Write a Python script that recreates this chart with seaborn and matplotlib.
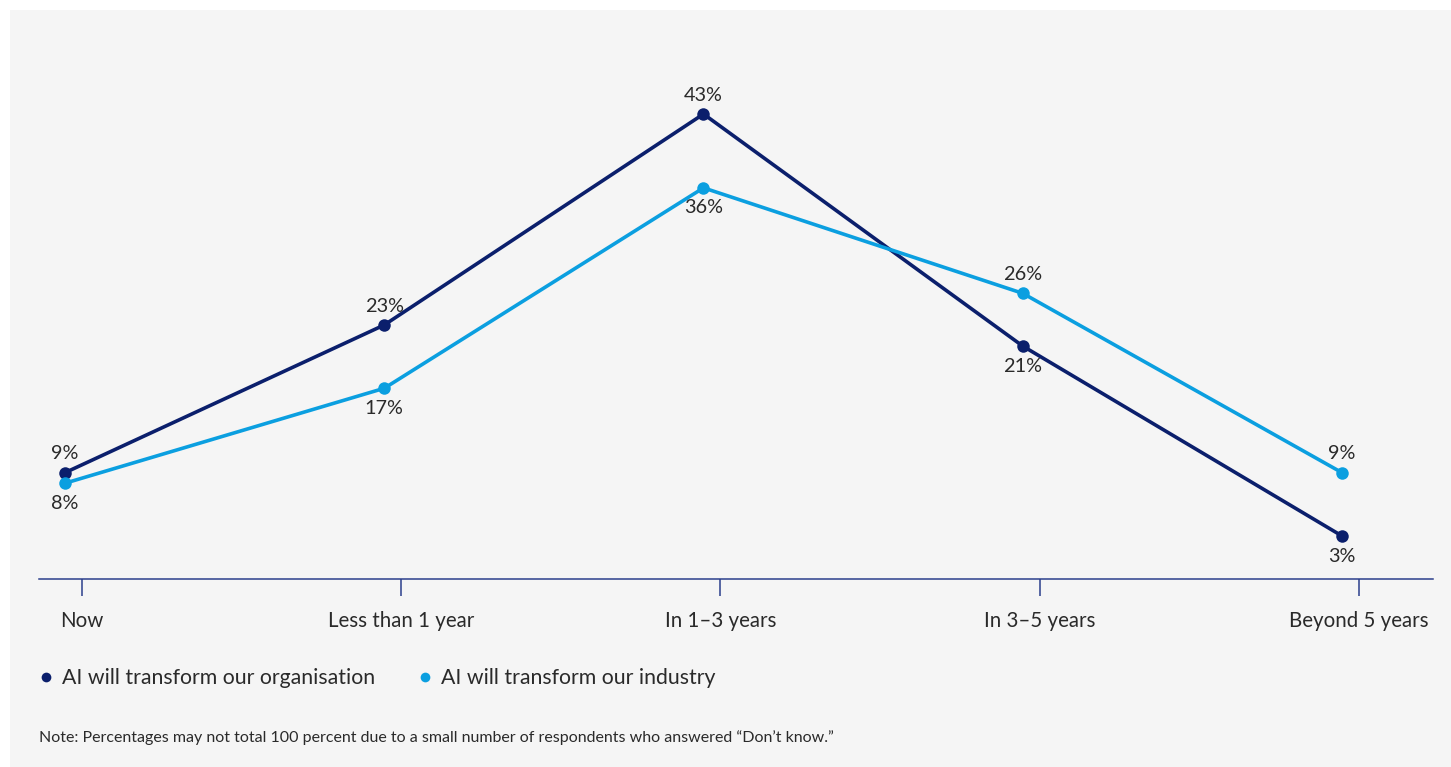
import matplotlib
matplotlib.use("Agg")
import matplotlib.pyplot as plt
from matplotlib.patches import Rectangle
from matplotlib.lines import Line2D
import seaborn as sns
import pandas as pd

# chart values
categories = ["Now", "Less than 1 year", "In 1–3 years", "In 3–5 years", "Beyond 5 years"]
organisation = [9, 23, 43, 21, 3]
industry = [8, 17, 36, 26, 9]
series_names = ["AI will transform our organisation", "AI will transform our industry"]
note = "Note: Percentages may not total 100 percent due to a small number of respondents who answered \u201cDon\u2019t know.\u201d"

dark = "#0b1f6c"
light = "#0b9fe0"
axis_col = "#2b3f8c"
text_col = "#2a2a2a"
bg = "#f5f5f5"

sns.set_theme(style="white")
plt.rcParams["font.family"] = ["Lato", "DejaVu Sans"]

df = pd.DataFrame({
    "when": categories * 2,
    "pct": organisation + industry,
    "series": [series_names[0]] * len(categories) + [series_names[1]] * len(categories),
})

fig = plt.figure(figsize=(14.51, 7.67), dpi=100, facecolor="white")
fig.patches.append(Rectangle((10 / 1451, 0), 1 - 10 / 1451, 1 - 10 / 767,
                             transform=fig.transFigure, facecolor=bg,
                             edgecolor="none", zorder=-10))

ax = fig.add_axes([39 / 1451, 1 - 579 / 767, (1433 - 39) / 1451, 569 / 767])
ax.set_facecolor("none")

sns.lineplot(data=df, x="when", y="pct", hue="series",
             palette=[dark, light], hue_order=series_names,
             marker="o", markersize=9, markeredgewidth=0,
             linewidth=2.6, legend=False, ax=ax, sort=False)

ax.set_xlim(-0.0814, 4.285)
ax.set_ylim(-1.08, 52.86)

# labels: higher series above, lower below
for i in range(len(categories)):
    o, n = organisation[i], industry[i]
    ax.annotate(f"{o}%", (i, o), xytext=(0, 13.5 if o >= n else -14.5),
                textcoords="offset points", ha="center", va="center",
                fontsize=14.3, color=text_col)
    ax.annotate(f"{n}%", (i, n), xytext=(0, 13.5 if n > o else -14.5),
                textcoords="offset points", ha="center", va="center",
                fontsize=14.3, color=text_col)

for s in ["top", "right", "left"]:
    ax.spines[s].set_visible(False)
ax.spines["bottom"].set_color(axis_col)
ax.spines["bottom"].set_linewidth(1.1)

ax.set_xticks([i + 0.053 for i in range(len(categories))])
ax.set_xticklabels(categories)
ax.tick_params(axis="x", length=12, width=1.1, color=axis_col, pad=11,
               labelsize=14.8, labelcolor=text_col, bottom=True)
ax.set_yticks([])
ax.set_xlabel("")
ax.set_ylabel("")

handles = [Line2D([], [], marker="o", linestyle="", markersize=7,
                  markerfacecolor=c, markeredgewidth=0) for c in [dark, light]]
fig.legend(handles, series_names, loc="center left",
           bbox_to_anchor=(39 / 1451, 1 - 678 / 767), ncol=2, frameon=False,
           handlelength=0.7, handletextpad=0.4, columnspacing=2.0,
           fontsize=15.3, labelcolor=text_col, borderaxespad=0, borderpad=0)

fig.text(39 / 1451, 1 - 738 / 767, note, fontsize=11.5, color=text_col,
         ha="left", va="center")

fig.savefig("out.png", dpi=100, facecolor="white")
